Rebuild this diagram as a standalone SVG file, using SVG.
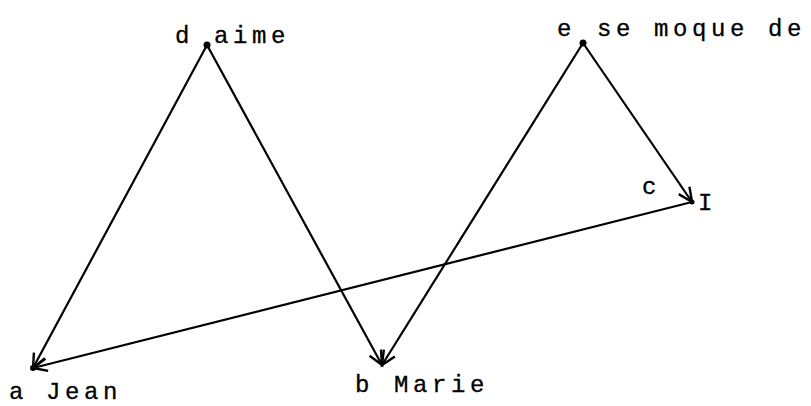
<svg xmlns="http://www.w3.org/2000/svg" width="811" height="406" viewBox="0 0 811 406">
<defs>
<style>
.t{font-family:"Liberation Mono","Courier New",monospace;font-size:24px;fill:#000;stroke:#000;stroke-width:0.3;letter-spacing:4.6px}
.e{stroke:#000;stroke-width:2.2;fill:none}
</style>
<marker id="ah" markerUnits="userSpaceOnUse" markerWidth="20" markerHeight="20" refX="0" refY="0" viewBox="-16 -10 20 20" orient="auto">
<path d="M-14,-6.5 L0,0 L-14,6.5" fill="none" stroke="#000" stroke-width="2.4"/>
</marker>
</defs>
<rect width="811" height="406" fill="#fff"/>
<g id="connectors">
<line class="e" x1="207" y1="45" x2="33" y2="368" marker-end="url(#ah)"/>
<line class="e" x1="207" y1="45" x2="382" y2="365" marker-end="url(#ah)"/>
<line class="e" x1="583" y1="43" x2="382" y2="365" marker-end="url(#ah)"/>
<line class="e" x1="583" y1="43" x2="692" y2="202" marker-end="url(#ah)"/>
<line class="e" x1="692" y1="202" x2="33" y2="368" marker-end="url(#ah)"/>
</g>
<g id="node-d">
<circle cx="207" cy="45" r="3.5"/>
<text class="t" x="175" y="43">d</text>
<text class="t" x="214" y="43">aime</text>
</g>
<g id="node-e">
<circle cx="583" cy="43" r="3.5"/>
<text class="t" x="557" y="36">e</text>
<text class="t" x="597" y="36">se moque de</text>
</g>
<g id="node-c">
<circle cx="692" cy="202" r="2.5"/>
<text class="t" x="642" y="194">c</text>
<text class="t" x="698" y="210">I</text>
</g>
<g id="node-a">
<circle cx="33" cy="368" r="3"/>
<text class="t" x="9" y="399">a</text>
<text class="t" x="46" y="399">Jean</text>
</g>
<g id="node-b">
<text class="t" x="355" y="392">b</text>
<text class="t" x="394" y="392">Marie</text>
</g>
</svg>
